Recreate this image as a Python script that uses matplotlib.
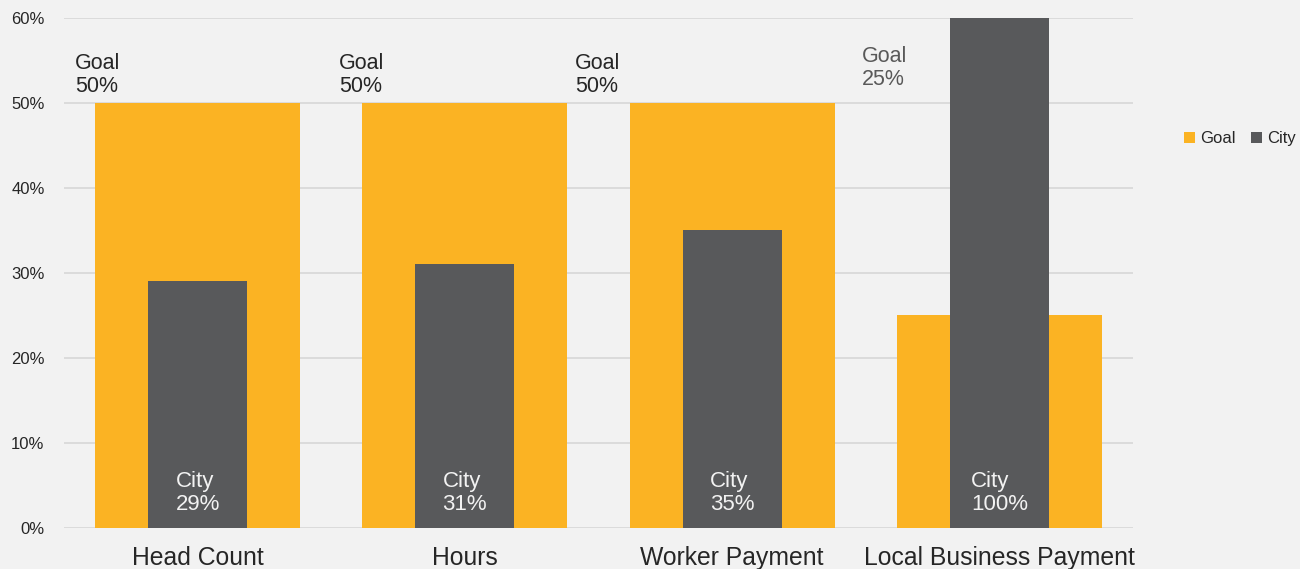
import matplotlib.pyplot as plt
import numpy as np

plt.rcParams['font.family'] = ['Liberation Sans', 'DejaVu Sans']

categories = ['Head Count', 'Hours', 'Worker Payment', 'Local Business Payment']
goal = [50, 50, 50, 25]
city = [29, 31, 35, 100]
# x offset of the "Goal" labels relative to each category centre
goal_label_x = [-0.459, -0.471, -0.588, -0.514]

bg = '#f2f2f2'
orange = '#fbb323'
grey = '#58595b'

fig = plt.figure(figsize=(13, 5.69), dpi=100, facecolor=bg)
ax = fig.add_axes([0.0492, 0.0721, 0.8223, 0.8963], facecolor=bg)

x = np.arange(len(categories))
ax.bar(x, goal, width=0.767, color=orange, label='Goal', zorder=2)
ax.bar(x, city, width=0.37, color=grey, label='City', zorder=3)

for i in range(len(categories)):
    col = '#262626' if goal[i] >= 50 else '#595959'
    yy = 50.7 if goal[i] >= 50 else 51.5
    ax.text(x[i] + goal_label_x[i], yy, f'Goal\n{goal[i]}%', ha='left', va='bottom',
            multialignment='left', fontsize=15.5, color=col, linespacing=1.15, zorder=4)
    ax.text(x[i], 4.1, f'City\n{city[i]}%', ha='center', va='center',
            multialignment='left', fontsize=16, color='#f2f2f2', linespacing=1.15, zorder=4)

ax.set_xlim(-0.5, 3.5)
ax.set_ylim(0, 60)
ax.set_yticks(range(0, 61, 10))
ax.set_yticklabels([f'{v}%' for v in range(0, 61, 10)], fontsize=12, color='#262626')
ax.set_xticks(x)
ax.set_xticklabels(categories, fontsize=17.8, color='#262626')
ax.tick_params(axis='both', length=0)
ax.tick_params(axis='y', pad=14)
ax.tick_params(axis='x', pad=13)
ax.grid(axis='y', color='#d9d9d9', linewidth=1.3, zorder=0)
ax.set_axisbelow(True)
for s in ax.spines.values():
    s.set_visible(False)

leg = fig.legend(loc='center left', bbox_to_anchor=(0.906, 0.756), ncol=2, frameon=False,
                 fontsize=12, handlelength=0.65, handleheight=0.65, handletextpad=0.3,
                 columnspacing=0.9, borderaxespad=0)
for t in leg.get_texts():
    t.set_color('#262626')

fig.savefig('out.png', dpi=100, facecolor=bg)
